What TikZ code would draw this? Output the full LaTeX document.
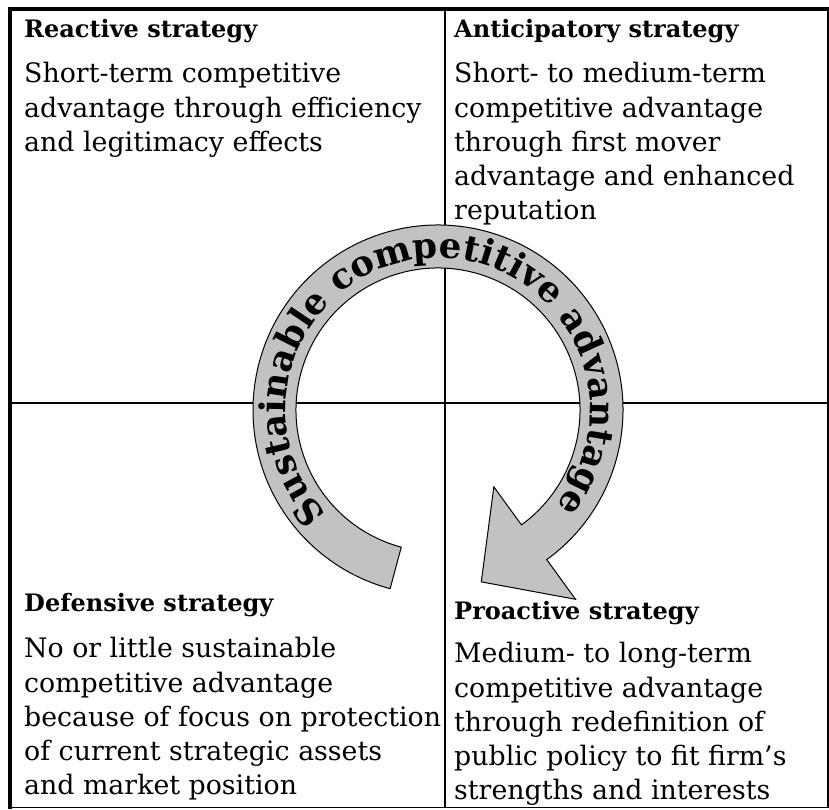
\documentclass[tikz,border=0pt]{standalone}
\usepackage{fontspec}
\setmainfont{DejaVu Serif}
\usetikzlibrary{decorations.text}
\newcommand\headfont{\fontsize{24}{28}\selectfont\bfseries}
\newcommand\bodyfont{\fontsize{26.8}{34.2}\selectfont}
\newcommand\bandfont{\fontsize{35.5}{36}\selectfont\bfseries}

\begin{document}
\begin{tikzpicture}[x=1pt,y=1pt,
  heading/.style={anchor=base west, inner sep=0pt, font=\headfont},
  body/.style={anchor=base west, inner sep=0pt, font=\bodyfont, align=left},
  heavyrule/.style={line width=4pt, line cap=rect},
  lightrule/.style={line width=1.5pt},
  divider/.style={line width=1.1pt},
  band/.style={fill=black!24, draw=black, line width=1pt, line join=miter}]
\useasboundingbox (0,0) rectangle (829,810);

% frame corners
\coordinate (tl) at (10,801);
\coordinate (tr) at (828,801);
\coordinate (br) at (828,2.5);
\coordinate (bl) at (10,2.5);
% ends of the two dividers
\coordinate (vtop) at (445,801);
\coordinate (vbot) at (445,2.5);
\coordinate (hleft) at (10,407);
\coordinate (hright) at (828,407);

\draw[divider] (vtop) -- (vbot);
\draw[divider] (hleft) -- (hright);
\draw[lightrule] (tr) -- (br) -- (bl);
\draw[heavyrule] (bl) -- (tl) -- (tr);

% circular arrow
\coordinate (C) at (438,400);
\begin{scope}[shift={(C)}]
  \coordinate (tip) at ({164.5*cos(-54)-66*sin(54)},{-164.5*sin(54)-66*cos(54)});
  \draw[band] (255:142) arc[start angle=255, end angle=-54, radius=142]
    -- (-54:95) -- (tip) -- (-54:234) -- (-54:185)
    arc[start angle=-54, end angle=255, radius=185] -- cycle;
  \path[decorate, decoration={text along path, text align=center,
      text={|\bandfont|Sustainable competitive advantage}}]
    (228:152) arc[start angle=228, end angle=-44, radius=152];
\end{scope}

% quadrant texts (each body node is placed by the baseline of its last line)
\node[heading] (h1) at (24,772) {Reactive strategy};
\node[body] (b1) at (24,658.6) {Short-term competitive\\advantage through efficiency\\and legitimacy effects};
\node[heading] (h2) at (454,772) {Anticipatory strategy};
\node[body] (b2) at (454,590.2) {Short- to medium-term\\competitive advantage\\through first mover\\advantage and enhanced\\reputation};
\node[heading] (h3) at (24,198) {Defensive strategy};
\node[body] (b3) at (24,15.2) {No or little sustainable\\competitive advantage\\because of focus on protection\\of current strategic assets\\and market position};
\node[heading] (h4) at (454,190) {Proactive strategy};
\node[body] (b4) at (454,10.2) {Medium- to long-term\\competitive advantage\\through redefinition of\\public policy to fit firm’s\\strengths and interests};
\end{tikzpicture}
\end{document}
